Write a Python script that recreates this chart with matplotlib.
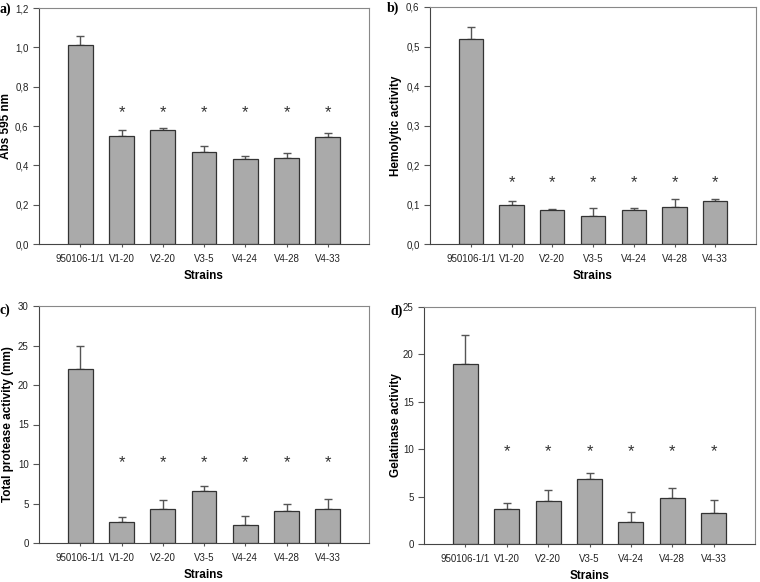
import numpy as np
import matplotlib.pyplot as plt

strains = ["950106-1/1", "V1-20", "V2-20", "V3-5", "V4-24", "V4-28", "V4-33"]

abs595 = [1.01, 0.55, 0.58, 0.47, 0.43, 0.435, 0.545]
abs595_err = [0.05, 0.03, 0.01, 0.03, 0.02, 0.03, 0.02]

hemolytic = [0.52, 0.10, 0.085, 0.07, 0.085, 0.093, 0.11]
hemolytic_err = [0.03, 0.01, 0.003, 0.02, 0.005, 0.02, 0.005]

protease = [22.0, 2.7, 4.3, 6.6, 2.3, 4.0, 4.3]
protease_err = [3.0, 0.6, 1.2, 0.6, 1.1, 1.0, 1.3]

gelatinase = [19.0, 3.7, 4.5, 6.9, 2.3, 4.9, 3.3]
gelatinase_err = [3.0, 0.6, 1.2, 0.6, 1.1, 1.0, 1.3]

star_y = [0.67, 0.155, 10.2, 9.7]

panels = [
    ("a)", abs595, abs595_err, "Abs 595 nm", (0, 1.2), np.arange(0, 1.21, 0.2), "{:.1f}"),
    ("b)", hemolytic, hemolytic_err, "Hemolytic activity", (0, 0.6), np.arange(0, 0.61, 0.1), "{:.1f}"),
    ("c)", protease, protease_err, "Total protease activity (mm)", (0, 30), np.arange(0, 31, 5), "{:.0f}"),
    ("d)", gelatinase, gelatinase_err, "Gelatinase activity", (0, 25), np.arange(0, 26, 5), "{:.0f}"),
]

# axes boxes in pixels: left, top, right, bottom
boxes = [(39, 8, 369, 244), (430, 7, 756, 244), (39, 306, 369, 543), (424, 307, 755, 544)]
# distance from axis to right edge of the y label, in pixels
ylab_off = [27, 28, 25, 22]
# panel letter position (left x, center y) in pixels
letter_pos = [(0, 9), (387, 8), (0, 310), (390, 311)]
W, H = 760, 582

plt.rcParams['font.family'] = ['Liberation Sans', 'DejaVu Sans']
fig = plt.figure(figsize=(7.6, 5.82), dpi=100)

x = np.arange(len(strains))
for (lab, vals, errs, ylabel, ylim, yticks, fmt), (l, t, r, b), sy, yo, (lx, ly) in zip(
        panels, boxes, star_y, ylab_off, letter_pos):
    ax = fig.add_axes([l / W, 1 - b / H, (r - l) / W, (b - t) / H])
    ax.bar(x, vals, width=0.6, color="#aaaaaa", edgecolor="#333333", linewidth=0.9, zorder=2)
    ax.errorbar(x, vals, yerr=[np.zeros(len(errs)), errs], fmt="none", ecolor="#555555",
                elinewidth=1.0, capsize=2.6, capthick=1.0, zorder=1)
    for xi in x[1:]:
        ax.text(xi, sy, "*", ha="center", va="center", fontsize=12, color="#333333")
    ax.set_xlim(-1, 7)
    ax.set_ylim(*ylim)
    ax.set_yticks(yticks)
    ax.set_yticklabels([fmt.format(v).replace(".", ",") for v in yticks])
    ax.set_xticks(x)
    ax.set_xticklabels(strains)
    ax.tick_params(labelsize=7, color="#555555", length=4, width=0.8, labelcolor="#222222")
    ax.tick_params(axis="x", length=2, pad=5)
    for s in ["top", "right"]:
        ax.spines[s].set_color("#888888")
    for s in ["left", "bottom"]:
        ax.spines[s].set_color("#444444")
    ax.set_ylabel(ylabel, fontsize=8.5, fontweight="bold")
    ax.yaxis.set_label_coords(-yo / (r - l), 0.5)
    ax.set_xlabel("Strains", fontsize=8.5, fontweight="bold", va="top")
    ax.xaxis.set_label_coords(0.5, -26 / (b - t))
    fig.text(lx / W, 1 - ly / H, lab, fontsize=10, fontweight="bold",
             family="Liberation Serif", va="center", ha="left")

fig.savefig("out.png", dpi=100)
